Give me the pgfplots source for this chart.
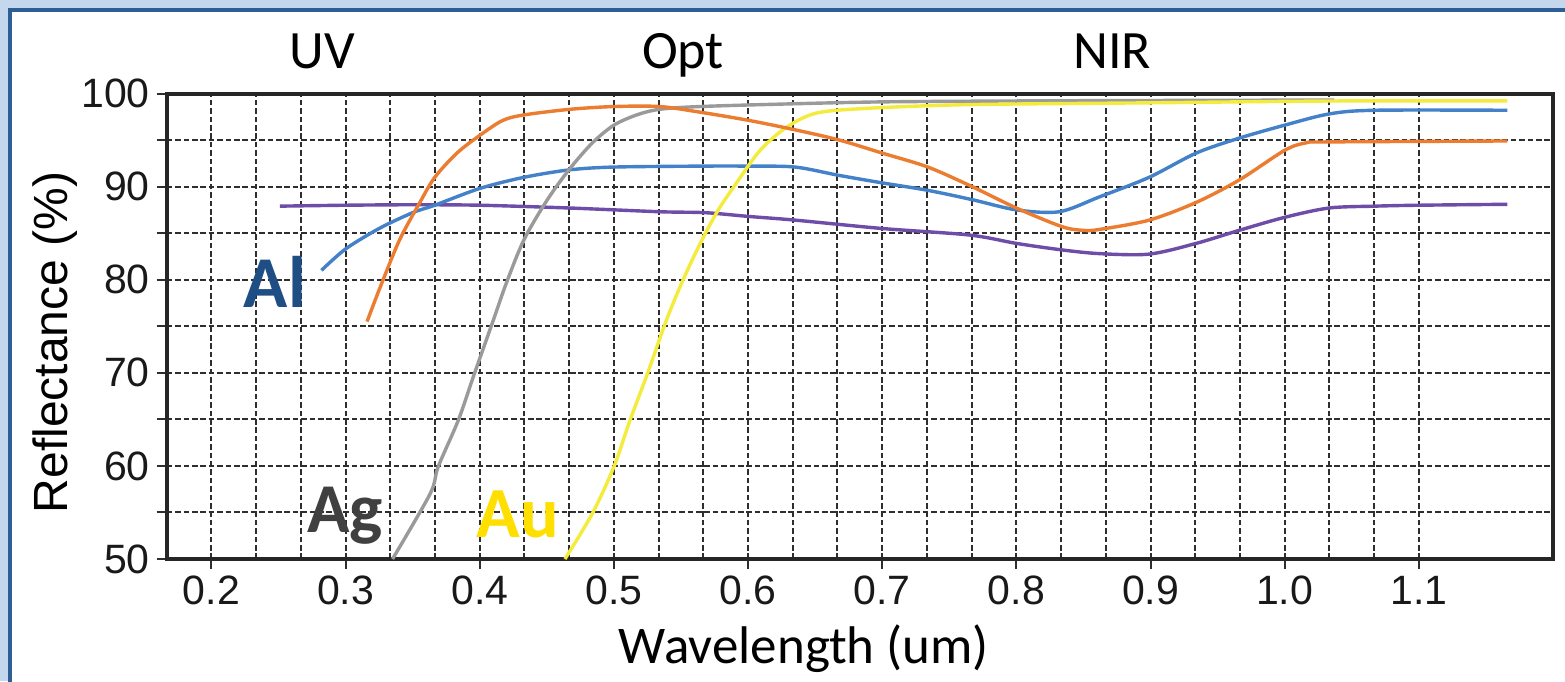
\documentclass[border=0pt]{standalone}
\usepackage{fontspec}
\setmainfont{Liberation Sans}
\newfontfamily\calibri{Carlito}
\usepackage{pgfplots}
\pgfplotsset{compat=1.18}
\definecolor{framelight}{HTML}{C4D7ED}
\definecolor{framedark}{HTML}{2D5E94}
\definecolor{cOrange}{HTML}{EC7C30}
\definecolor{cGray}{HTML}{9A9A9A}
\definecolor{cYellow}{HTML}{F4EC3C}
\definecolor{cBlue}{HTML}{4381C9}
\definecolor{cPurple}{HTML}{6E4DA8}
\definecolor{lAl}{HTML}{1F4E85}
\definecolor{lAg}{HTML}{404040}
\definecolor{lAu}{HTML}{FFDF00}
\definecolor{gridc}{HTML}{2E2E2E}
\begin{document}
\begin{tikzpicture}
\useasboundingbox (0,0) rectangle (782.5pt,-340.5pt);
\clip (0,0) rectangle (782.5pt,-340.5pt);
\fill[framelight] (0,0) rectangle (782.5pt,-340.5pt);
\filldraw[fill=white, draw=framedark, line width=2pt] (5pt,-5pt) rectangle (800pt,-360pt);
\begin{axis}[
  at={(83.35pt,-279.5pt)}, anchor=south west,
  width=693.15pt, height=232.75pt, scale only axis,
  xmin=0.1666667, xmax=1.2, ymin=50, ymax=100,
  xtick={0.2,0.3,0.4,0.5,0.6,0.7,0.8,0.9,1.0,1.1},
  xticklabels={0.2,0.3,0.4,0.5,0.6,0.7,0.8,0.9,1.0,1.1},
  minor x tick num=2,
  ytick={50,60,70,80,90,100},
  minor y tick num=1,
  grid=both,
  major grid style={gridc, line width=1pt, dash pattern=on 2.8pt off 1.4pt},
  minor grid style={gridc, line width=1pt, dash pattern=on 2.8pt off 1.4pt},
  tick pos=left, tick align=outside,
  major tick length=5pt, minor tick length=5pt,
  minor x tick style={draw=none},
  tick style={gridc, line width=1pt},
  axis line style={black!85, line width=2pt},
  ticklabel style={font=\fontsize{20.5}{24}\selectfont, text=black!90},
  /pgf/number format/assume math mode=true,
  clip=false,
]
% purple
\addplot[cPurple, line width=1.7pt, smooth] coordinates {
(0.251,87.9) (0.30,88.0) (0.35,88.05) (0.40,88.0) (0.467,87.7) (0.534,87.3)
(0.568,87.2) (0.60,86.8) (0.635,86.4) (0.70,85.5) (0.765,84.8) (0.80,83.9)
(0.834,83.2) (0.862,82.8) (0.899,82.75) (0.934,83.9) (0.966,85.3) (1.00,86.7)
(1.033,87.7) (1.067,87.9) (1.10,88.0) (1.166,88.1)};
% blue (Al)
\addplot[cBlue, line width=1.7pt, smooth] coordinates {
(0.282,81.0) (0.30,83.3) (0.325,85.5) (0.35,87.2) (0.3665,88.0) (0.40,89.8)
(0.433,91.0) (0.467,91.8) (0.50,92.1) (0.564,92.2) (0.60,92.2) (0.635,92.1)
(0.668,91.2) (0.70,90.4) (0.734,89.6) (0.767,88.6) (0.80,87.5) (0.832,87.3)
(0.862,88.9) (0.899,91.0) (0.934,93.6) (0.966,95.2) (1.00,96.6) (1.033,97.8)
(1.067,98.2) (1.166,98.2)};
% gray (Ag)
\addplot[cGray, line width=1.7pt, smooth] coordinates {
(0.335,50.0) (0.363,57.0) (0.369,59.9) (0.384,64.9) (0.396,69.9) (0.41,75.6)
(0.42,79.7) (0.433,84.3) (0.45,88.5) (0.467,91.9) (0.484,94.7) (0.50,96.6)
(0.517,97.7) (0.534,98.3) (0.564,98.6) (0.635,98.9) (0.70,99.1) (0.80,99.2)
(0.90,99.25) (1.037,99.3)};
% yellow (Au)
\addplot[cYellow, line width=1.7pt, smooth] coordinates {
(0.4635,50.0) (0.484,54.9) (0.50,59.9) (0.512,64.9) (0.525,69.9) (0.539,75.6)
(0.551,79.8) (0.564,83.8) (0.577,87.3) (0.589,89.9) (0.609,93.9) (0.629,96.4)
(0.651,97.9) (0.688,98.4) (0.763,98.8) (0.90,99.0) (1.04,99.2) (1.166,99.2)};
% orange
\addplot[cOrange, line width=1.7pt, smooth] coordinates {
(0.316,75.5) (0.325,78.9) (0.34,84.2) (0.355,88.2) (0.3665,91.0) (0.383,93.6)
(0.40,95.5) (0.417,97.1) (0.433,97.7) (0.467,98.3) (0.50,98.6) (0.534,98.6)
(0.564,98.0) (0.601,97.1) (0.635,96.1) (0.668,95.0) (0.70,93.6) (0.734,92.1)
(0.767,90.0) (0.80,87.7) (0.834,85.7) (0.85,85.3) (0.862,85.4) (0.899,86.4)
(0.934,88.3) (0.966,90.7) (1.00,93.9) (1.016,94.7) (1.033,94.8) (1.166,94.9)};
\end{axis}
% texts
\node[anchor=base, font=\calibri\fontsize{27}{30}\selectfont] at (161pt,-34pt) {UV};
\node[anchor=base, font=\calibri\fontsize{27}{30}\selectfont] at (341.5pt,-34pt) {Opt};
\node[anchor=base, font=\calibri\fontsize{27}{30}\selectfont] at (556pt,-34pt) {NIR};
\node[anchor=base, font=\calibri\fontsize{26.5}{30}\selectfont] at (402pt,-331.5pt) {Wavelength (um)};
\node[rotate=90, font=\fontsize{24}{28}\selectfont] at (27.5pt,-171.25pt) {Reflectance (\%)};
\node[anchor=base, text=lAl, font=\calibri\bfseries\fontsize{36.5}{40}\selectfont] at (137.5pt,-153.5pt) {Al};
\node[anchor=base, text=lAg, font=\calibri\bfseries\fontsize{35}{40}\selectfont] at (172.5pt,-266pt) {Ag};
\node[anchor=base, text=lAu, font=\calibri\bfseries\fontsize{36}{40}\selectfont] at (259pt,-268.5pt) {Au};
\end{tikzpicture}
\end{document}
